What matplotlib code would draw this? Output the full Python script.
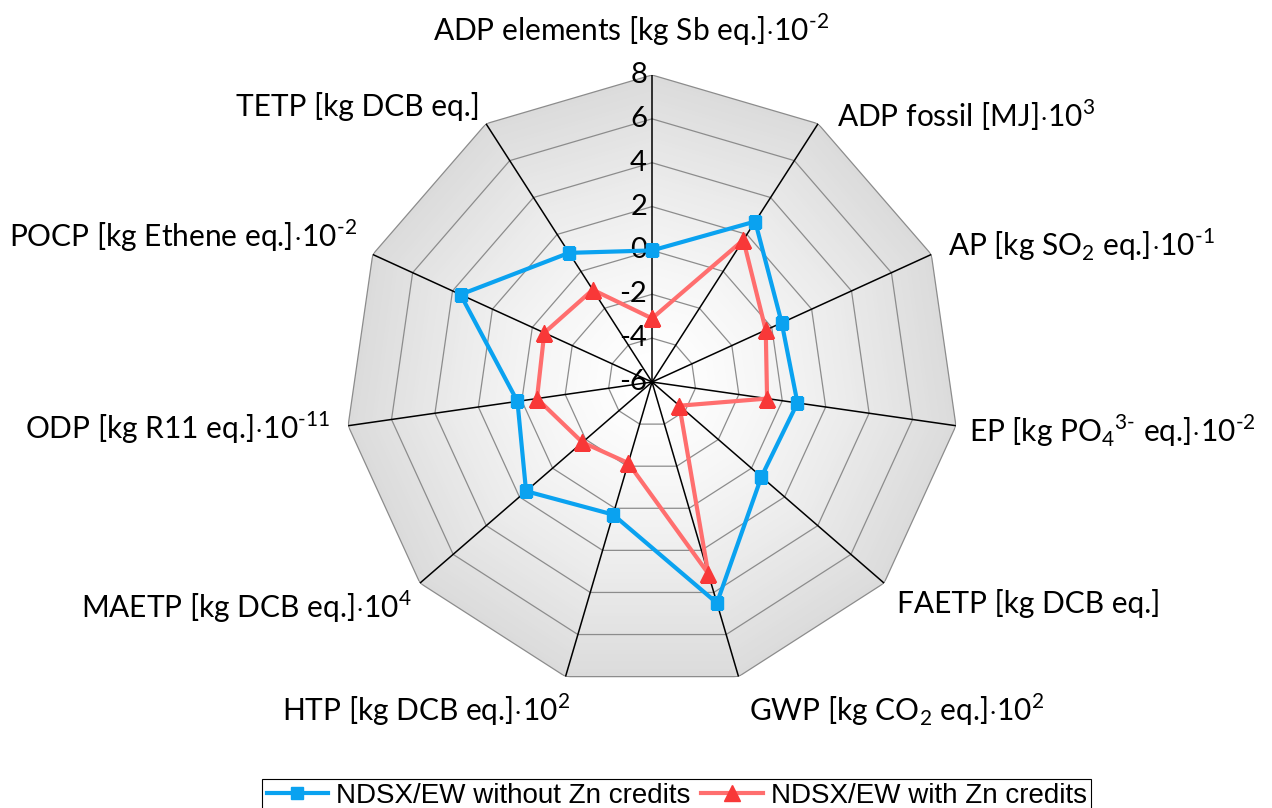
import numpy as np
import matplotlib
matplotlib.use("Agg")
import matplotlib.pyplot as plt

plt.rcParams['font.family'] = ['Lato', 'DejaVu Sans']
plt.rcParams['mathtext.fontset'] = 'custom'
plt.rcParams['mathtext.rm'] = 'Lato'

# axes of the radar, clockwise from the top
categories = [
    r'ADP elements [kg Sb eq.]$\cdot$10$^{\text{-2}}$',
    r'ADP fossil [MJ]$\cdot$10$^{\text{3}}$',
    r'AP [kg SO$_{\text{2}}$ eq.]$\cdot$10$^{\text{-1}}$',
    r'EP [kg PO$_{\text{4}}$$^{\text{3-}}$ eq.]$\cdot$10$^{\text{-2}}$',
    'FAETP [kg DCB eq.]',
    r'GWP [kg CO$_{\text{2}}$ eq.]$\cdot$10$^{\text{2}}$',
    r'HTP [kg DCB eq.]$\cdot$10$^{\text{2}}$',
    r'MAETP [kg DCB eq.]$\cdot$10$^{\text{4}}$',
    r'ODP [kg R11 eq.]$\cdot$10$^{\text{-11}}$',
    r'POCP [kg Ethene eq.]$\cdot$10$^{\text{-2}}$',
    'TETP [kg DCB eq.]',
]
without_zn = [0.0, 2.7, 0.5, 0.7, 0.6, 4.5, 0.3, 1.6, 0.2, 3.6, 1.0]
with_zn = [-3.1, 1.7, -0.3, -0.7, -4.35, 3.1, -2.15, -1.8, -0.7, -0.6, -1.0]
series_names = ['NDSX/EW without Zn credits', 'NDSX/EW with Zn credits']
r_ticks = [-6, -4, -2, 0, 2, 4, 6, 8]

r_min, r_max = -6, 8
n = len(categories)
theta = np.linspace(0, 2 * np.pi, n, endpoint=False)
theta_c = np.append(theta, theta[0])

fig = plt.figure(figsize=(12.72, 8.08), dpi=100)
ax = fig.add_axes([0.2712, 0.1472, 0.4828, 0.76], projection='polar')
ax.set_theta_zero_location('N')
ax.set_theta_direction(-1)
ax.set_ylim(r_min, r_max)
ax.grid(False)
ax.set_xticks([])
ax.set_yticks([])
ax.spines['polar'].set_visible(False)
ax.patch.set_visible(False)

# polygon-shaped gradient, grey at the rim to white in the middle
levels = np.linspace(r_max, r_min, 80)
for r in levels:
    t = (r - r_min) / (r_max - r_min)
    g = 1 - 0.14 * t ** 1.4
    ax.fill(theta_c, np.full(n + 1, r), color=(g, g, g), lw=0, zorder=0)

# ring gridlines and spokes
for r in r_ticks[1:]:
    ax.plot(theta_c, np.full(n + 1, r), color='#8c8c8c', lw=0.9, zorder=1)
for t in theta:
    ax.plot([t, t], [r_min, r_max], color='black', lw=1.1, zorder=2)

# tick labels on the vertical axis
for r in r_ticks:
    ax.annotate(str(r), xy=(0, r), xytext=(-5, 0), textcoords='offset pixels',
                ha='right', va='center', fontsize=21, zorder=3, annotation_clip=False)

# category labels: alignment and pixel offset from the outer vertex
label_style = [
    ('center', -21, 34), ('left', 19, -3), ('left', 17, -1), ('left', 13, -16),
    ('left', 13, -30), ('left', 10, -44), ('right', 5, -44), ('right', -8, -35),
    ('right', -18, -13), ('right', -16, 7), ('right', -6, 8),
]
for t, lab, (ha, dx, dy) in zip(theta, categories, label_style):
    ax.annotate(lab, xy=(t, r_max), xytext=(dx, dy), textcoords='offset pixels',
                ha=ha, va='baseline', fontsize=21.5, annotation_clip=False)

blue = '#0aa2f0'
ax.plot(theta_c, without_zn + without_zn[:1], color=blue, lw=3, marker='s',
        markersize=8.5, markerfacecolor=blue, markeredgecolor=blue, zorder=5,
        label=series_names[0])
ax.plot(theta_c, with_zn + with_zn[:1], color='#ff6e6e', lw=3, marker='^',
        markersize=11, markerfacecolor='#f83838', markeredgecolor='#f83838', zorder=4,
        label=series_names[1])

leg = fig.legend(loc='lower center', bbox_to_anchor=(0.532, -0.006), ncol=2,
                 frameon=True, fancybox=False, edgecolor='black', framealpha=1,
                 prop={'family': ['Liberation Sans Narrow', 'Liberation Sans'], 'size': 20},
                 handlelength=2.2, handletextpad=0.3, columnspacing=0.4,
                 borderpad=0.15, borderaxespad=0)
leg.get_frame().set_linewidth(0.8)

fig.savefig('out.png', dpi=100)
